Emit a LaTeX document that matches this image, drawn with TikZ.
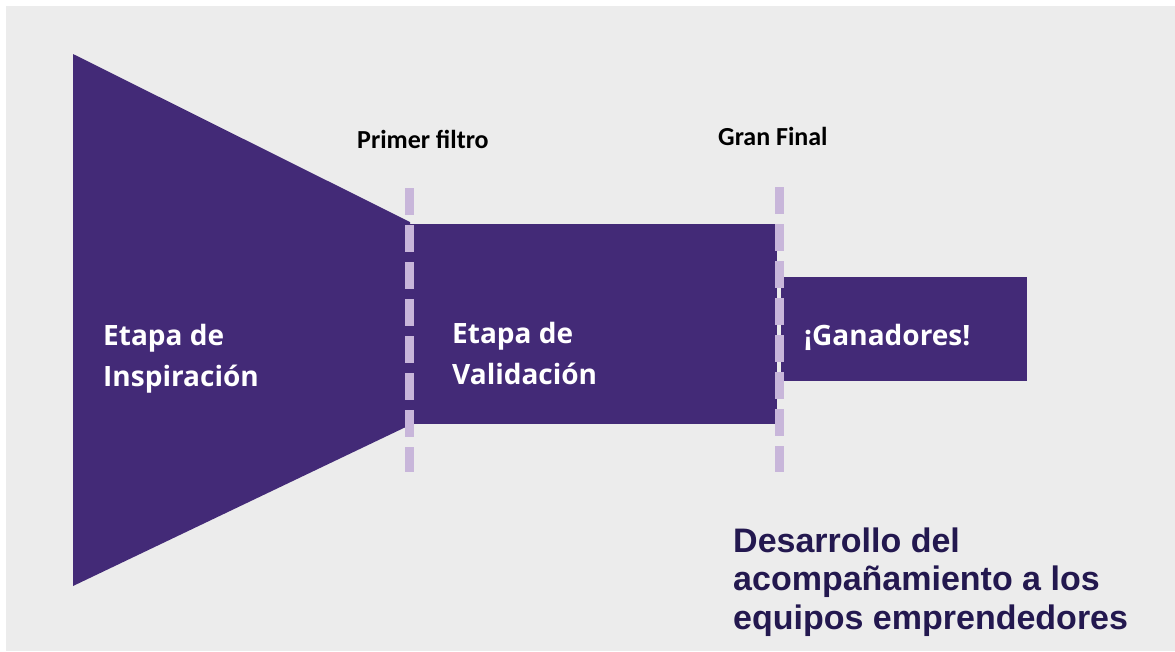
\documentclass[tikz,border=0pt]{standalone}
\usepackage{fontspec}
\setmainfont{Open Sans}
\newfontfamily\calfont{Carlito}
\newfontfamily\arialfont{Liberation Sans}
\definecolor{funnel}{HTML}{432A77}
\definecolor{dashcol}{HTML}{C8B6DA}
\definecolor{bgcol}{HTML}{ECECEC}
\definecolor{navy}{HTML}{23184F}
\begin{document}
\begin{tikzpicture}[x=1pt,y=-1pt,
  shapefill/.style={fill=funnel,draw=none},
  stagelabel/.style={text=white,font=\fontsize{28}{40.5}\selectfont\bfseries,align=left,inner sep=0pt,anchor=base west},
  gatelabel/.style={text=black,font=\calfont\fontsize{26}{30}\selectfont\bfseries,inner sep=0pt,anchor=base west},
  gateline/.style={draw=dashcol,line width=9pt,dash pattern=on 27pt off 10pt},
  notelabel/.style={text=navy,font=\arialfont\fontsize{34}{38.5}\selectfont\bfseries,align=left,inner sep=0pt,anchor=base west}]
\useasboundingbox (0,0) rectangle (1175,651);
\fill[white] (0,0) rectangle (1175,651);
\fill[bgcol] (6,6) rectangle (1175,651);
% shapes
\fill[shapefill] (73,54) -- (410,222) -- (410,425) -- (73,586) -- cycle;
\fill[shapefill] (408,224) rectangle (777,424);
\fill[shapefill] (781,277) rectangle (1027,381);
% gates
\coordinate (g1top) at (409,188);
\coordinate (g1bot) at (409,472);
\coordinate (g2top) at (779.5,187);
\coordinate (g2bot) at (779.5,472);
\draw[gateline] (g1top) -- (g1bot);
\draw[gateline] (g2top) -- (g2bot);
% labels
\node[gatelabel] (primer) at (357,148) {Primer filtro};
\node[gatelabel] (gran) at (718,145) {Gran Final};
\node[stagelabel] (insp) at (103,386) {Etapa de\\Inspiración};
\node[stagelabel] (valid) at (452,384) {Etapa de\\Validación};
\node[stagelabel] (gana) at (804,345) {¡Ganadores!};
\node[notelabel] (note) at (733,629) {Desarrollo del\\acompañamiento a los\\equipos emprendedores};
\end{tikzpicture}
\end{document}
